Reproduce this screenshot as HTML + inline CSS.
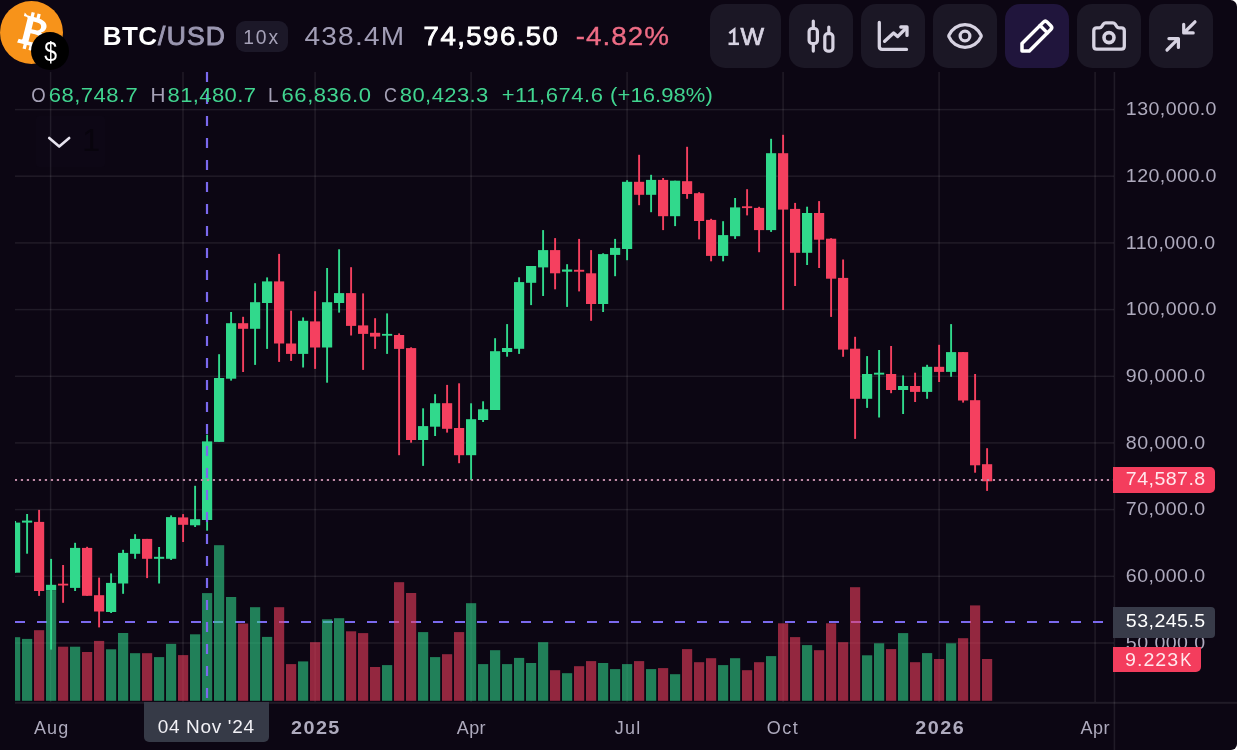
<!DOCTYPE html>
<html><head><meta charset="utf-8"><title>BTC/USD</title>
<style>
html,body{margin:0;padding:0;background:#fff;}
body{width:1237px;height:750px;overflow:hidden;font-family:"Liberation Sans",sans-serif;}
#app{position:relative;width:1237px;height:750px;background:#0c0613;border-top-right-radius:6.5px;border-bottom-right-radius:6px;overflow:hidden;}
.t{position:absolute;white-space:nowrap;line-height:1;font-family:"Liberation Sans",sans-serif;}
.c{text-align:center;}
.btn{position:absolute;top:4px;height:63.5px;width:64px;background:#1b1725;border-radius:15px;}
.tag{position:absolute;}
svg{position:absolute;left:0;top:0;will-change:transform;}
</style></head><body>
<div id="app">
<div style="position:absolute;left:36px;top:116px;width:69px;height:51px;background:#0d0715;border-radius:3px;"></div>
<svg width="1237" height="750" viewBox="0 0 1237 750">
<defs><clipPath id="cp"><rect x="15" y="70" width="1098.6" height="632"/></clipPath></defs>
<rect x="15" y="108.85" width="1099" height="1.5" fill="rgba(255,255,255,0.087)"/>
<rect x="15" y="175.45" width="1099" height="1.5" fill="rgba(255,255,255,0.087)"/>
<rect x="15" y="242.15" width="1099" height="1.5" fill="rgba(255,255,255,0.087)"/>
<rect x="15" y="308.85" width="1099" height="1.5" fill="rgba(255,255,255,0.087)"/>
<rect x="15" y="375.55" width="1099" height="1.5" fill="rgba(255,255,255,0.087)"/>
<rect x="15" y="442.15" width="1099" height="1.5" fill="rgba(255,255,255,0.087)"/>
<rect x="15" y="508.85" width="1099" height="1.5" fill="rgba(255,255,255,0.087)"/>
<rect x="15" y="575.55" width="1099" height="1.5" fill="rgba(255,255,255,0.087)"/>
<rect x="15" y="642.25" width="1099" height="1.5" fill="rgba(255,255,255,0.087)"/>
<rect x="49.85" y="72" width="1.5" height="630" fill="rgba(255,255,255,0.087)"/>
<rect x="182.25" y="72" width="1.5" height="630" fill="rgba(255,255,255,0.087)"/>
<rect x="314.35" y="72" width="1.5" height="630" fill="rgba(255,255,255,0.087)"/>
<rect x="470.35" y="72" width="1.5" height="630" fill="rgba(255,255,255,0.087)"/>
<rect x="626.35" y="72" width="1.5" height="630" fill="rgba(255,255,255,0.087)"/>
<rect x="782.35" y="72" width="1.5" height="630" fill="rgba(255,255,255,0.087)"/>
<rect x="938.35" y="72" width="1.5" height="630" fill="rgba(255,255,255,0.087)"/>
<rect x="1094.35" y="72" width="1.5" height="630" fill="rgba(255,255,255,0.087)"/>
<rect x="15" y="701.8" width="1222" height="2" fill="rgba(255,255,255,0.087)"/>
<rect x="1113.6" y="72" width="1.6" height="678" fill="rgba(255,255,255,0.087)"/>
<g clip-path="url(#cp)">
<path d="M15,622 H1113" stroke="#7b69ee" stroke-width="2.2" stroke-dasharray="10 12" fill="none"/>
<rect x="10.0" y="637.2" width="10.2" height="63.6" fill="#31d98c" fill-opacity="0.58"/>
<rect x="22.0" y="638.9" width="10.2" height="61.9" fill="#31d98c" fill-opacity="0.58"/>
<rect x="34.0" y="630.2" width="10.2" height="70.6" fill="#f5405f" fill-opacity="0.58"/>
<rect x="46.0" y="590.6" width="10.2" height="110.2" fill="#31d98c" fill-opacity="0.58"/>
<rect x="58.0" y="646.7" width="10.2" height="54.1" fill="#f5405f" fill-opacity="0.58"/>
<rect x="70.0" y="646.7" width="10.2" height="54.1" fill="#31d98c" fill-opacity="0.58"/>
<rect x="82.0" y="652.0" width="10.2" height="48.8" fill="#f5405f" fill-opacity="0.58"/>
<rect x="94.0" y="640.9" width="10.2" height="59.9" fill="#f5405f" fill-opacity="0.58"/>
<rect x="106.0" y="649.3" width="10.2" height="51.5" fill="#31d98c" fill-opacity="0.58"/>
<rect x="118.0" y="633.0" width="10.2" height="67.8" fill="#31d98c" fill-opacity="0.58"/>
<rect x="130.0" y="653.2" width="10.2" height="47.6" fill="#31d98c" fill-opacity="0.58"/>
<rect x="142.0" y="653.2" width="10.2" height="47.6" fill="#f5405f" fill-opacity="0.58"/>
<rect x="154.0" y="657.1" width="10.2" height="43.7" fill="#31d98c" fill-opacity="0.58"/>
<rect x="166.0" y="643.9" width="10.2" height="56.9" fill="#31d98c" fill-opacity="0.58"/>
<rect x="178.0" y="655.1" width="10.2" height="45.7" fill="#f5405f" fill-opacity="0.58"/>
<rect x="190.0" y="634.3" width="10.2" height="66.5" fill="#31d98c" fill-opacity="0.58"/>
<rect x="202.0" y="593.1" width="10.2" height="107.7" fill="#31d98c" fill-opacity="0.58"/>
<rect x="214.0" y="545.2" width="10.2" height="155.6" fill="#31d98c" fill-opacity="0.58"/>
<rect x="226.0" y="597.0" width="10.2" height="103.8" fill="#31d98c" fill-opacity="0.58"/>
<rect x="238.0" y="623.5" width="10.2" height="77.3" fill="#f5405f" fill-opacity="0.58"/>
<rect x="250.0" y="607.2" width="10.2" height="93.6" fill="#31d98c" fill-opacity="0.58"/>
<rect x="262.0" y="636.9" width="10.2" height="63.9" fill="#31d98c" fill-opacity="0.58"/>
<rect x="274.0" y="607.2" width="10.2" height="93.6" fill="#f5405f" fill-opacity="0.58"/>
<rect x="286.0" y="664.1" width="10.2" height="36.7" fill="#f5405f" fill-opacity="0.58"/>
<rect x="298.0" y="661.4" width="10.2" height="39.4" fill="#31d98c" fill-opacity="0.58"/>
<rect x="310.0" y="642.2" width="10.2" height="58.6" fill="#f5405f" fill-opacity="0.58"/>
<rect x="322.0" y="619.3" width="10.2" height="81.5" fill="#31d98c" fill-opacity="0.58"/>
<rect x="334.0" y="618.2" width="10.2" height="82.6" fill="#31d98c" fill-opacity="0.58"/>
<rect x="346.0" y="631.3" width="10.2" height="69.5" fill="#f5405f" fill-opacity="0.58"/>
<rect x="358.0" y="633.1" width="10.2" height="67.7" fill="#f5405f" fill-opacity="0.58"/>
<rect x="370.0" y="667.0" width="10.2" height="33.8" fill="#f5405f" fill-opacity="0.58"/>
<rect x="382.0" y="665.1" width="10.2" height="35.7" fill="#31d98c" fill-opacity="0.58"/>
<rect x="394.0" y="582.2" width="10.2" height="118.6" fill="#f5405f" fill-opacity="0.58"/>
<rect x="406.0" y="593.0" width="10.2" height="107.8" fill="#f5405f" fill-opacity="0.58"/>
<rect x="418.0" y="632.1" width="10.2" height="68.7" fill="#31d98c" fill-opacity="0.58"/>
<rect x="430.0" y="657.1" width="10.2" height="43.7" fill="#31d98c" fill-opacity="0.58"/>
<rect x="442.0" y="654.2" width="10.2" height="46.6" fill="#f5405f" fill-opacity="0.58"/>
<rect x="454.0" y="632.1" width="10.2" height="68.7" fill="#f5405f" fill-opacity="0.58"/>
<rect x="466.0" y="603.2" width="10.2" height="97.6" fill="#31d98c" fill-opacity="0.58"/>
<rect x="478.0" y="664.1" width="10.2" height="36.7" fill="#31d98c" fill-opacity="0.58"/>
<rect x="490.0" y="650.2" width="10.2" height="50.6" fill="#31d98c" fill-opacity="0.58"/>
<rect x="502.0" y="664.1" width="10.2" height="36.7" fill="#31d98c" fill-opacity="0.58"/>
<rect x="514.0" y="657.9" width="10.2" height="42.9" fill="#31d98c" fill-opacity="0.58"/>
<rect x="526.0" y="663.0" width="10.2" height="37.8" fill="#31d98c" fill-opacity="0.58"/>
<rect x="538.0" y="642.2" width="10.2" height="58.6" fill="#31d98c" fill-opacity="0.58"/>
<rect x="550.0" y="670.2" width="10.2" height="30.6" fill="#f5405f" fill-opacity="0.58"/>
<rect x="562.0" y="673.2" width="10.2" height="27.6" fill="#31d98c" fill-opacity="0.58"/>
<rect x="574.0" y="666.2" width="10.2" height="34.6" fill="#f5405f" fill-opacity="0.58"/>
<rect x="586.0" y="661.1" width="10.2" height="39.7" fill="#f5405f" fill-opacity="0.58"/>
<rect x="598.0" y="663.0" width="10.2" height="37.8" fill="#31d98c" fill-opacity="0.58"/>
<rect x="610.0" y="669.1" width="10.2" height="31.7" fill="#31d98c" fill-opacity="0.58"/>
<rect x="622.0" y="664.1" width="10.2" height="36.7" fill="#31d98c" fill-opacity="0.58"/>
<rect x="634.0" y="661.1" width="10.2" height="39.7" fill="#f5405f" fill-opacity="0.58"/>
<rect x="646.0" y="669.1" width="10.2" height="31.7" fill="#31d98c" fill-opacity="0.58"/>
<rect x="658.0" y="668.1" width="10.2" height="32.7" fill="#f5405f" fill-opacity="0.58"/>
<rect x="670.0" y="674.2" width="10.2" height="26.6" fill="#31d98c" fill-opacity="0.58"/>
<rect x="682.0" y="649.1" width="10.2" height="51.7" fill="#f5405f" fill-opacity="0.58"/>
<rect x="694.0" y="662.2" width="10.2" height="38.6" fill="#f5405f" fill-opacity="0.58"/>
<rect x="706.0" y="658.2" width="10.2" height="42.6" fill="#f5405f" fill-opacity="0.58"/>
<rect x="718.0" y="665.1" width="10.2" height="35.7" fill="#31d98c" fill-opacity="0.58"/>
<rect x="730.0" y="658.2" width="10.2" height="42.6" fill="#31d98c" fill-opacity="0.58"/>
<rect x="742.0" y="670.2" width="10.2" height="30.6" fill="#f5405f" fill-opacity="0.58"/>
<rect x="754.0" y="662.2" width="10.2" height="38.6" fill="#f5405f" fill-opacity="0.58"/>
<rect x="766.0" y="656.1" width="10.2" height="44.7" fill="#31d98c" fill-opacity="0.58"/>
<rect x="778.0" y="623.3" width="10.2" height="77.5" fill="#f5405f" fill-opacity="0.58"/>
<rect x="790.0" y="637.1" width="10.2" height="63.7" fill="#f5405f" fill-opacity="0.58"/>
<rect x="802.0" y="645.1" width="10.2" height="55.7" fill="#31d98c" fill-opacity="0.58"/>
<rect x="814.0" y="650.2" width="10.2" height="50.6" fill="#f5405f" fill-opacity="0.58"/>
<rect x="826.0" y="623.3" width="10.2" height="77.5" fill="#f5405f" fill-opacity="0.58"/>
<rect x="838.0" y="642.2" width="10.2" height="58.6" fill="#f5405f" fill-opacity="0.58"/>
<rect x="850.0" y="587.2" width="10.2" height="113.6" fill="#f5405f" fill-opacity="0.58"/>
<rect x="862.0" y="655.3" width="10.2" height="45.5" fill="#31d98c" fill-opacity="0.58"/>
<rect x="874.0" y="643.3" width="10.2" height="57.5" fill="#31d98c" fill-opacity="0.58"/>
<rect x="886.0" y="649.1" width="10.2" height="51.7" fill="#f5405f" fill-opacity="0.58"/>
<rect x="898.0" y="633.1" width="10.2" height="67.7" fill="#31d98c" fill-opacity="0.58"/>
<rect x="910.0" y="662.2" width="10.2" height="38.6" fill="#f5405f" fill-opacity="0.58"/>
<rect x="922.0" y="653.1" width="10.2" height="47.7" fill="#31d98c" fill-opacity="0.58"/>
<rect x="934.0" y="659.0" width="10.2" height="41.8" fill="#f5405f" fill-opacity="0.58"/>
<rect x="946.0" y="643.3" width="10.2" height="57.5" fill="#31d98c" fill-opacity="0.58"/>
<rect x="958.0" y="638.2" width="10.2" height="62.6" fill="#f5405f" fill-opacity="0.58"/>
<rect x="970.0" y="605.4" width="10.2" height="95.4" fill="#f5405f" fill-opacity="0.58"/>
<rect x="982.0" y="659.0" width="10.2" height="41.8" fill="#f5405f" fill-opacity="0.58"/>
<rect x="14.15" y="521.0" width="1.9" height="51.7" fill="#31d98c"/>
<rect x="10.0" y="522.6" width="10.2" height="50.1" fill="#31d98c"/>
<rect x="26.15" y="514.0" width="1.9" height="39.7" fill="#31d98c"/>
<rect x="22.0" y="520.6" width="10.2" height="2.0" fill="#31d98c"/>
<rect x="38.15" y="509.9" width="1.9" height="86.0" fill="#f5405f"/>
<rect x="34.0" y="521.9" width="10.2" height="69.1" fill="#f5405f"/>
<rect x="50.15" y="558.9" width="1.9" height="90.7" fill="#31d98c"/>
<rect x="46.0" y="584.8" width="10.2" height="5.6" fill="#31d98c"/>
<rect x="62.15" y="565.0" width="1.9" height="37.8" fill="#f5405f"/>
<rect x="58.0" y="583.7" width="10.2" height="1.8" fill="#f5405f"/>
<rect x="74.15" y="542.8" width="1.9" height="48.2" fill="#31d98c"/>
<rect x="70.0" y="547.9" width="10.2" height="40.0" fill="#31d98c"/>
<rect x="86.15" y="546.8" width="1.9" height="49.0" fill="#f5405f"/>
<rect x="82.0" y="547.9" width="10.2" height="47.9" fill="#f5405f"/>
<rect x="98.15" y="577.6" width="1.9" height="49.8" fill="#f5405f"/>
<rect x="94.0" y="595.2" width="10.2" height="16.3" fill="#f5405f"/>
<rect x="110.15" y="573.4" width="1.9" height="39.6" fill="#31d98c"/>
<rect x="106.0" y="582.9" width="10.2" height="29.1" fill="#31d98c"/>
<rect x="122.15" y="549.8" width="1.9" height="44.0" fill="#31d98c"/>
<rect x="118.0" y="552.9" width="10.2" height="30.6" fill="#31d98c"/>
<rect x="134.15" y="534.2" width="1.9" height="24.6" fill="#31d98c"/>
<rect x="130.0" y="538.9" width="10.2" height="14.9" fill="#31d98c"/>
<rect x="146.15" y="538.9" width="1.9" height="39.2" fill="#f5405f"/>
<rect x="142.0" y="538.9" width="10.2" height="19.9" fill="#f5405f"/>
<rect x="158.15" y="547.0" width="1.9" height="36.5" fill="#31d98c"/>
<rect x="154.0" y="556.8" width="10.2" height="2.0" fill="#31d98c"/>
<rect x="170.15" y="515.4" width="1.9" height="44.6" fill="#31d98c"/>
<rect x="166.0" y="517.1" width="10.2" height="41.7" fill="#31d98c"/>
<rect x="182.15" y="514.1" width="1.9" height="27.9" fill="#f5405f"/>
<rect x="178.0" y="517.4" width="10.2" height="7.4" fill="#f5405f"/>
<rect x="194.15" y="485.8" width="1.9" height="41.2" fill="#31d98c"/>
<rect x="190.0" y="519.2" width="10.2" height="6.1" fill="#31d98c"/>
<rect x="206.15" y="434.7" width="1.9" height="96.0" fill="#31d98c"/>
<rect x="202.0" y="441.4" width="10.2" height="78.6" fill="#31d98c"/>
<rect x="218.15" y="354.2" width="1.9" height="87.7" fill="#31d98c"/>
<rect x="214.0" y="378.0" width="10.2" height="63.9" fill="#31d98c"/>
<rect x="230.15" y="312.0" width="1.9" height="68.6" fill="#31d98c"/>
<rect x="226.0" y="323.2" width="10.2" height="55.5" fill="#31d98c"/>
<rect x="242.15" y="316.8" width="1.9" height="55.2" fill="#f5405f"/>
<rect x="238.0" y="323.2" width="10.2" height="5.6" fill="#f5405f"/>
<rect x="254.15" y="283.2" width="1.9" height="81.7" fill="#31d98c"/>
<rect x="250.0" y="302.2" width="10.2" height="26.6" fill="#31d98c"/>
<rect x="266.15" y="277.4" width="1.9" height="71.5" fill="#31d98c"/>
<rect x="262.0" y="281.4" width="10.2" height="21.6" fill="#31d98c"/>
<rect x="278.15" y="253.9" width="1.9" height="108.0" fill="#f5405f"/>
<rect x="274.0" y="281.4" width="10.2" height="62.1" fill="#f5405f"/>
<rect x="290.15" y="310.7" width="1.9" height="50.2" fill="#f5405f"/>
<rect x="286.0" y="343.5" width="10.2" height="10.4" fill="#f5405f"/>
<rect x="302.15" y="317.4" width="1.9" height="50.1" fill="#31d98c"/>
<rect x="298.0" y="320.8" width="10.2" height="33.1" fill="#31d98c"/>
<rect x="314.15" y="291.2" width="1.9" height="77.7" fill="#f5405f"/>
<rect x="310.0" y="321.4" width="10.2" height="26.1" fill="#f5405f"/>
<rect x="326.15" y="268.0" width="1.9" height="114.7" fill="#31d98c"/>
<rect x="322.0" y="302.2" width="10.2" height="45.3" fill="#31d98c"/>
<rect x="338.15" y="249.3" width="1.9" height="63.3" fill="#31d98c"/>
<rect x="334.0" y="293.1" width="10.2" height="9.9" fill="#31d98c"/>
<rect x="350.15" y="267.2" width="1.9" height="68.3" fill="#f5405f"/>
<rect x="346.0" y="293.1" width="10.2" height="32.8" fill="#f5405f"/>
<rect x="362.15" y="293.4" width="1.9" height="76.5" fill="#f5405f"/>
<rect x="358.0" y="325.4" width="10.2" height="8.5" fill="#f5405f"/>
<rect x="374.15" y="318.2" width="1.9" height="30.7" fill="#f5405f"/>
<rect x="370.0" y="332.8" width="10.2" height="3.8" fill="#f5405f"/>
<rect x="386.15" y="313.4" width="1.9" height="40.5" fill="#31d98c"/>
<rect x="382.0" y="333.9" width="10.2" height="1.8" fill="#31d98c"/>
<rect x="398.15" y="333.4" width="1.9" height="121.8" fill="#f5405f"/>
<rect x="394.0" y="335.0" width="10.2" height="13.9" fill="#f5405f"/>
<rect x="410.15" y="347.3" width="1.9" height="95.4" fill="#f5405f"/>
<rect x="406.0" y="348.1" width="10.2" height="91.9" fill="#f5405f"/>
<rect x="422.15" y="408.3" width="1.9" height="57.6" fill="#31d98c"/>
<rect x="418.0" y="426.1" width="10.2" height="13.9" fill="#31d98c"/>
<rect x="434.15" y="394.2" width="1.9" height="41.8" fill="#31d98c"/>
<rect x="430.0" y="403.2" width="10.2" height="23.5" fill="#31d98c"/>
<rect x="446.15" y="384.9" width="1.9" height="47.7" fill="#f5405f"/>
<rect x="442.0" y="403.2" width="10.2" height="25.6" fill="#f5405f"/>
<rect x="458.15" y="383.3" width="1.9" height="79.9" fill="#f5405f"/>
<rect x="454.0" y="428.0" width="10.2" height="27.2" fill="#f5405f"/>
<rect x="470.15" y="403.3" width="1.9" height="76.7" fill="#31d98c"/>
<rect x="466.0" y="419.2" width="10.2" height="36.0" fill="#31d98c"/>
<rect x="482.15" y="401.3" width="1.9" height="20.7" fill="#31d98c"/>
<rect x="478.0" y="409.3" width="10.2" height="10.7" fill="#31d98c"/>
<rect x="494.15" y="338.2" width="1.9" height="71.8" fill="#31d98c"/>
<rect x="490.0" y="351.2" width="10.2" height="58.8" fill="#31d98c"/>
<rect x="506.15" y="324.1" width="1.9" height="32.6" fill="#31d98c"/>
<rect x="502.0" y="348.0" width="10.2" height="4.0" fill="#31d98c"/>
<rect x="518.15" y="277.3" width="1.9" height="76.6" fill="#31d98c"/>
<rect x="514.0" y="282.1" width="10.2" height="66.7" fill="#31d98c"/>
<rect x="530.15" y="266.0" width="1.9" height="39.1" fill="#31d98c"/>
<rect x="526.0" y="266.0" width="10.2" height="16.8" fill="#31d98c"/>
<rect x="542.15" y="230.1" width="1.9" height="65.9" fill="#31d98c"/>
<rect x="538.0" y="250.1" width="10.2" height="17.3" fill="#31d98c"/>
<rect x="554.15" y="238.1" width="1.9" height="51.2" fill="#f5405f"/>
<rect x="550.0" y="250.1" width="10.2" height="23.2" fill="#f5405f"/>
<rect x="566.15" y="264.2" width="1.9" height="42.7" fill="#31d98c"/>
<rect x="562.0" y="269.5" width="10.2" height="2.2" fill="#31d98c"/>
<rect x="578.15" y="238.9" width="1.9" height="52.5" fill="#f5405f"/>
<rect x="574.0" y="269.8" width="10.2" height="1.9" fill="#f5405f"/>
<rect x="590.15" y="250.1" width="1.9" height="70.7" fill="#f5405f"/>
<rect x="586.0" y="273.3" width="10.2" height="30.7" fill="#f5405f"/>
<rect x="602.15" y="253.3" width="1.9" height="58.7" fill="#31d98c"/>
<rect x="598.0" y="254.1" width="10.2" height="49.9" fill="#31d98c"/>
<rect x="614.15" y="238.9" width="1.9" height="37.3" fill="#31d98c"/>
<rect x="610.0" y="247.9" width="10.2" height="7.0" fill="#31d98c"/>
<rect x="626.15" y="180.2" width="1.9" height="80.0" fill="#31d98c"/>
<rect x="622.0" y="181.8" width="10.2" height="67.2" fill="#31d98c"/>
<rect x="638.15" y="154.8" width="1.9" height="50.4" fill="#f5405f"/>
<rect x="634.0" y="181.8" width="10.2" height="13.0" fill="#f5405f"/>
<rect x="650.15" y="174.8" width="1.9" height="37.4" fill="#31d98c"/>
<rect x="646.0" y="179.9" width="10.2" height="14.9" fill="#31d98c"/>
<rect x="662.15" y="178.0" width="1.9" height="52.1" fill="#f5405f"/>
<rect x="658.0" y="179.9" width="10.2" height="36.3" fill="#f5405f"/>
<rect x="674.15" y="180.7" width="1.9" height="45.4" fill="#31d98c"/>
<rect x="670.0" y="180.7" width="10.2" height="35.5" fill="#31d98c"/>
<rect x="686.15" y="146.8" width="1.9" height="52.0" fill="#f5405f"/>
<rect x="682.0" y="181.2" width="10.2" height="12.8" fill="#f5405f"/>
<rect x="698.15" y="192.2" width="1.9" height="47.2" fill="#f5405f"/>
<rect x="694.0" y="193.2" width="10.2" height="27.8" fill="#f5405f"/>
<rect x="710.15" y="218.8" width="1.9" height="42.5" fill="#f5405f"/>
<rect x="706.0" y="219.9" width="10.2" height="36.0" fill="#f5405f"/>
<rect x="722.15" y="221.2" width="1.9" height="40.1" fill="#31d98c"/>
<rect x="718.0" y="235.1" width="10.2" height="20.8" fill="#31d98c"/>
<rect x="734.15" y="198.0" width="1.9" height="40.9" fill="#31d98c"/>
<rect x="730.0" y="207.4" width="10.2" height="28.8" fill="#31d98c"/>
<rect x="746.15" y="189.2" width="1.9" height="26.2" fill="#f5405f"/>
<rect x="742.0" y="206.3" width="10.2" height="1.8" fill="#f5405f"/>
<rect x="758.15" y="206.8" width="1.9" height="45.4" fill="#f5405f"/>
<rect x="754.0" y="207.9" width="10.2" height="22.2" fill="#f5405f"/>
<rect x="770.15" y="138.8" width="1.9" height="93.1" fill="#31d98c"/>
<rect x="766.0" y="153.2" width="10.2" height="76.9" fill="#31d98c"/>
<rect x="782.15" y="134.8" width="1.9" height="175.2" fill="#f5405f"/>
<rect x="778.0" y="153.2" width="10.2" height="56.4" fill="#f5405f"/>
<rect x="794.15" y="202.9" width="1.9" height="83.1" fill="#f5405f"/>
<rect x="790.0" y="208.9" width="10.2" height="43.9" fill="#f5405f"/>
<rect x="806.15" y="206.7" width="1.9" height="58.3" fill="#31d98c"/>
<rect x="802.0" y="213.0" width="10.2" height="39.8" fill="#31d98c"/>
<rect x="818.15" y="201.1" width="1.9" height="66.9" fill="#f5405f"/>
<rect x="814.0" y="213.0" width="10.2" height="26.7" fill="#f5405f"/>
<rect x="830.15" y="238.2" width="1.9" height="78.7" fill="#f5405f"/>
<rect x="826.0" y="238.7" width="10.2" height="40.0" fill="#f5405f"/>
<rect x="842.15" y="259.5" width="1.9" height="97.3" fill="#f5405f"/>
<rect x="838.0" y="277.9" width="10.2" height="71.7" fill="#f5405f"/>
<rect x="854.15" y="336.8" width="1.9" height="102.1" fill="#f5405f"/>
<rect x="850.0" y="348.7" width="10.2" height="50.1" fill="#f5405f"/>
<rect x="866.15" y="356.1" width="1.9" height="51.8" fill="#31d98c"/>
<rect x="862.0" y="374.0" width="10.2" height="24.8" fill="#31d98c"/>
<rect x="878.15" y="350.0" width="1.9" height="67.5" fill="#31d98c"/>
<rect x="874.0" y="372.7" width="10.2" height="1.9" fill="#31d98c"/>
<rect x="890.15" y="346.0" width="1.9" height="47.2" fill="#f5405f"/>
<rect x="886.0" y="374.0" width="10.2" height="16.0" fill="#f5405f"/>
<rect x="902.15" y="375.4" width="1.9" height="38.6" fill="#31d98c"/>
<rect x="898.0" y="386.0" width="10.2" height="4.0" fill="#31d98c"/>
<rect x="914.15" y="372.7" width="1.9" height="29.3" fill="#f5405f"/>
<rect x="910.0" y="386.0" width="10.2" height="5.9" fill="#f5405f"/>
<rect x="926.15" y="364.8" width="1.9" height="34.0" fill="#31d98c"/>
<rect x="922.0" y="366.8" width="10.2" height="25.1" fill="#31d98c"/>
<rect x="938.15" y="344.8" width="1.9" height="37.2" fill="#f5405f"/>
<rect x="934.0" y="366.8" width="10.2" height="5.1" fill="#f5405f"/>
<rect x="950.15" y="324.1" width="1.9" height="52.7" fill="#31d98c"/>
<rect x="946.0" y="352.1" width="10.2" height="19.8" fill="#31d98c"/>
<rect x="962.15" y="352.1" width="1.9" height="50.5" fill="#f5405f"/>
<rect x="958.0" y="352.1" width="10.2" height="48.4" fill="#f5405f"/>
<rect x="974.15" y="374.0" width="1.9" height="98.7" fill="#f5405f"/>
<rect x="970.0" y="400.2" width="10.2" height="65.1" fill="#f5405f"/>
<rect x="986.15" y="448.2" width="1.9" height="42.7" fill="#f5405f"/>
<rect x="982.0" y="464.2" width="10.2" height="17.1" fill="#f5405f"/>
<path d="M14.85,480 H1113" stroke="#c08aa6" stroke-width="2.2" stroke-dasharray="2.2 3.8" fill="none"/>
<path d="M207,72 V702" stroke="#7b69ee" stroke-width="2.2" stroke-dasharray="10 12" fill="none"/>
</g>
</svg>

<!-- legend collapse box -->
<svg width="1237" height="750" viewBox="0 0 1237 750">
<path d="M49.2,138 L59.2,146.6 L69.2,138" fill="none" stroke="#e6e3ee" stroke-width="2.6" stroke-linecap="round" stroke-linejoin="round"/>
</svg>

<!-- logo -->
<div style="position:absolute;left:-0.5px;top:0.5px;width:63px;height:63px;border-radius:50%;background:#f7931a;"></div>
<svg width="1237" height="750" viewBox="0 0 1237 750">
<g transform="translate(31.6,31.6) rotate(14) scale(1.09)">
<path fill="#fff" d="M-7.5,-13.5 h3.2 v-4 h3 v4 h2.6 v-4 h3 v4.2 c5,0.5 8,3 8,6.6 c0,2.6 -1.5,4.6 -4,5.5 c3.4,0.8 5.4,3.2 5.4,6.4 c0,4.6 -3.8,7.3 -9.4,7.6 v4.2 h-3 v-4.1 h-2.6 v4.1 h-3 v-4.1 h-6.2 l0.6,-3.6 h2.2 c0.9,0 1.2,-0.4 1.2,-1.2 v-18.8 c0,-0.9 -0.5,-1.4 -1.5,-1.4 h-2.3 v-3.4 z
M-0.6,-9.3 v7.2 h3.4 c2.9,0 4.7,-1.3 4.7,-3.7 c0,-2.3 -1.8,-3.5 -4.7,-3.5 z
M-0.6,1.6 v7.9 h4.2 c3.3,0 5.3,-1.4 5.3,-4 c0,-2.5 -2,-3.9 -5.3,-3.9 z" fill-rule="evenodd"/>
</g>
<circle cx="50" cy="51" r="19" fill="#000"/>
</svg>

<!-- pill -->
<div style="position:absolute;left:236px;top:20.5px;width:51.5px;height:31px;background:#1c1828;border-radius:9px;"></div>

<!-- toolbar -->
<div class="btn" style="left:710px;width:71px;"></div>
<div class="btn" style="left:789px;"></div>
<div class="btn" style="left:861px;"></div>
<div class="btn" style="left:933px;"></div>
<div class="btn" style="left:1005px;background:#20153c;"></div>
<div class="btn" style="left:1077px;"></div>
<div class="btn" style="left:1149px;"></div>
<svg width="1237" height="750" viewBox="0 0 1237 750" fill="none" stroke="#d7d3e2" stroke-linecap="round" stroke-linejoin="round">
<!-- 1 glyph -->
<path d="M728.5,43.8 H739" stroke-width="2.6" stroke-linecap="butt"/>
<path d="M734.2,44 V29.6 L729.3,33.2" stroke-width="2.6" stroke-linecap="butt" stroke-linejoin="miter"/>
<!-- candles icon -->
<g stroke-width="3.2">
<rect x="809.1" y="28.5" width="8.3" height="15" rx="3"/>
<path d="M813.3,21 V28 M813.3,44 V51.1"/>
<rect x="824.8" y="33.7" width="8.1" height="17.4" rx="3"/>
<path d="M828.8,27.1 V33"/>
</g>
<!-- chart icon -->
<g stroke-width="3.3">
<path d="M879.3,22.5 V46.6 Q879.3,49.4 882.1,49.4 H906.5"/>
<path d="M884.6,41.3 L893.6,33 L897.6,36.6 L906.2,28"/>
<path d="M900.8,27 H907 V35.4"/>
</g>
<!-- eye (lucide) -->
<g transform="translate(945.56,16.56) scale(1.62)" stroke-width="2">
<path d="M2.062 12.348a1 1 0 0 1 0-.696 10.75 10.75 0 0 1 19.876 0 1 1 0 0 1 0 .696 10.75 10.75 0 0 1-19.876 0"/>
<circle cx="12" cy="12" r="3"/>
</g>
<!-- pencil -->
<g stroke="#ffffff" stroke-width="3.5" transform="translate(1022,50.9) rotate(-45)">
<path d="M0,0 L5.2,-5.2 L35.5,-5.2 Q38.2,-5.2 38.2,-2.5 L38.2,2.5 Q38.2,5.2 35.5,5.2 L5.2,5.2 Z"/>
<path d="M30.7,-5.2 V5.2"/>
</g>
<!-- camera -->
<g stroke-width="3.3">
<path d="M1096.8,27.8 H1099.4 Q1100.9,27.8 1101.7,26.6 L1103.5,23.9 Q1104.3,22.8 1105.7,22.8 H1112.8 Q1114.2,22.8 1115,23.9 L1116.8,26.6 Q1117.6,27.8 1119.1,27.8 H1121.3 Q1124.3,27.8 1124.3,30.8 V46.2 Q1124.3,49.2 1121.3,49.2 H1096.8 Q1093.8,49.2 1093.8,46.2 V30.8 Q1093.8,27.8 1096.8,27.8 Z"/>
<circle cx="1109" cy="37.6" r="5" stroke-width="3.6"/>
</g>
<!-- collapse -->
<g stroke-width="3.2">
<path d="M1195,21.8 L1184.2,32.5 M1183.7,24.3 V32.9 H1193.2"/>
<path d="M1167,50 L1177.9,39.1 M1168.9,38.6 H1178.4 V47.5"/>
</g>
</svg>

<svg width="1237" height="750" viewBox="0 0 1237 750" style="font-family:'Liberation Sans',sans-serif">
<text transform="translate(102.81,45.10) scale(1.0,1)" font-size="26" fill="#ffffff" font-weight="700" letter-spacing="0.405">BTC</text>
<text stroke="#9b97b1" stroke-width="0.9" transform="translate(158.10,45.10) scale(1.02,1)" font-size="26" fill="#9b97b1" font-weight="400" letter-spacing="1.158">/USD</text>
<text transform="translate(243.15,43.80) scale(1.0,1)" font-size="19.3" fill="#a6a2b8" font-weight="400" letter-spacing="1.984">10x</text>
<text transform="translate(304.44,45.10) scale(1.08,1)" font-size="26" fill="#a29eb6" font-weight="400" letter-spacing="1.115">438.4M</text>
<text stroke="#ffffff" stroke-width="0.85" transform="translate(423.62,45.10) scale(1.06,1)" font-size="26" fill="#ffffff" font-weight="400" letter-spacing="1.380">74,596.50</text>
<text stroke="#ee6c85" stroke-width="0.35" transform="translate(575.79,45.10) scale(1.07,1)" font-size="26" fill="#ee6c85" font-weight="400" letter-spacing="0.934">-4.82%</text>
<text transform="translate(31.27,102.10) scale(0.9270,1)" font-size="20" fill="#a5a1b6" font-weight="400">O</text>
<text transform="translate(48.70,102.10) scale(1.1,1)" font-size="20" fill="#41d590" font-weight="400" letter-spacing="0.443">68,748.7</text>
<text transform="translate(150.44,102.10) scale(1.0354,1)" font-size="20" fill="#a5a1b6" font-weight="400">H</text>
<text transform="translate(167.52,102.10) scale(1.1,1)" font-size="20" fill="#41d590" font-weight="400" letter-spacing="0.375">81,480.7</text>
<text transform="translate(267.97,102.10) scale(0.9551,1)" font-size="20" fill="#a5a1b6" font-weight="400">L</text>
<text transform="translate(281.60,102.10) scale(1.1,1)" font-size="20" fill="#41d590" font-weight="400" letter-spacing="0.492">66,836.0</text>
<text transform="translate(383.90,102.10) scale(0.8976,1)" font-size="20" fill="#a5a1b6" font-weight="400">C</text>
<text transform="translate(399.82,102.10) scale(1.1,1)" font-size="20" fill="#41d590" font-weight="400" letter-spacing="0.374">80,423.3</text>
<text transform="translate(501.71,102.10) scale(1.1,1)" font-size="20" fill="#41d590" font-weight="400" letter-spacing="0.497">+11,674.6</text>
<text transform="translate(610.08,102.10) scale(1.1,1)" font-size="20" fill="#41d590" font-weight="400" letter-spacing="0.063">(+16.98%)</text>
<text transform="translate(1125.83,115.40) scale(1.07,1)" font-size="18.3" fill="#aeaabd" letter-spacing="0.423">130,000.0</text>
<text transform="translate(1125.83,182.00) scale(1.07,1)" font-size="18.3" fill="#aeaabd" letter-spacing="0.423">120,000.0</text>
<text transform="translate(1125.83,248.70) scale(1.07,1)" font-size="18.3" fill="#aeaabd" letter-spacing="0.423">110,000.0</text>
<text transform="translate(1125.83,315.40) scale(1.07,1)" font-size="18.3" fill="#aeaabd" letter-spacing="0.423">100,000.0</text>
<text transform="translate(1125.83,382.10) scale(1.07,1)" font-size="18.3" fill="#aeaabd" letter-spacing="0.423">90,000.0</text>
<text transform="translate(1125.83,448.70) scale(1.07,1)" font-size="18.3" fill="#aeaabd" letter-spacing="0.423">80,000.0</text>
<text transform="translate(1125.83,515.40) scale(1.07,1)" font-size="18.3" fill="#aeaabd" letter-spacing="0.423">70,000.0</text>
<text transform="translate(1125.83,582.10) scale(1.07,1)" font-size="18.3" fill="#aeaabd" letter-spacing="0.423">60,000.0</text>
<text transform="translate(1125.83,648.80) scale(1.07,1)" font-size="18.3" fill="#aeaabd" letter-spacing="0.423">50,000.0</text>
<text transform="translate(34.00,733.60) scale(1.0,1)" font-size="18" fill="#aeaabd" font-weight="400" letter-spacing="1.070">Aug</text>
<text transform="translate(291.01,733.60) scale(1.1,1)" font-size="18" fill="#aeaabd" font-weight="700" letter-spacing="1.313">2025</text>
<text transform="translate(456.80,733.60) scale(1.0,1)" font-size="18" fill="#aeaabd" font-weight="400" letter-spacing="0.395">Apr</text>
<text transform="translate(614.63,733.60) scale(1.0,1)" font-size="18" fill="#aeaabd" font-weight="400" letter-spacing="1.250">Jul</text>
<text transform="translate(766.79,733.60) scale(1.0,1)" font-size="18" fill="#aeaabd" font-weight="400" letter-spacing="1.510">Oct</text>
<text transform="translate(915.21,733.60) scale(1.1,1)" font-size="18" fill="#aeaabd" font-weight="700" letter-spacing="1.373">2026</text>
<text transform="translate(1080.50,733.60) scale(1.0,1)" font-size="18" fill="#aeaabd" font-weight="400" letter-spacing="0.495">Apr</text>
</svg>
<!-- price tags -->
<div class="tag" style="left:1113px;top:467px;width:102px;height:26px;background:#f43d5d;border-radius:0 5px 5px 0;"></div>
<div class="tag" style="left:1113px;top:606.5px;width:102px;height:31px;background:#383b49;border-radius:0 4px 4px 0;"></div>
<div class="tag" style="left:1113px;top:646.5px;width:88px;height:25px;background:#f43d5d;border-radius:0 0 5px 0;"></div>
<!-- date tag -->
<div class="tag" style="left:144px;top:702px;width:125px;height:40px;background:#363a47;border-radius:0 0 5px 5px;"></div>

<svg width="1237" height="750" viewBox="0 0 1237 750" font-family="Liberation Sans, sans-serif" style="font-family:'Liberation Sans',sans-serif">
<text transform="translate(1125.83,485.30) scale(1.07,1)" font-size="18.3" fill="#ffe8ed" letter-spacing="0.423">74,587.8</text>
<text transform="translate(1125.83,627.40) scale(1.07,1)" font-size="18.3" fill="#ffffff" letter-spacing="0.423">53,245.5</text>
<text transform="translate(1125.02,666.00) scale(1.07,1)" font-size="18.3" fill="#ffe8ed" font-weight="400" letter-spacing="0.961">9.223</text>
<text transform="translate(1180.26,666.00) scale(0.9139,1)" font-size="18.3" fill="#ffe8ed" font-weight="400">K</text>
<text transform="translate(157.63,733.40) scale(1.04,1)" font-size="18.3" fill="#f2f1f6" font-weight="400" letter-spacing="0.645">04 Nov &#39;24</text>
<text stroke="#d7d3e2" stroke-width="0.7" transform="translate(740.60,45.10) scale(1.0537,1)" font-size="23.7" fill="#d7d3e2" font-weight="400">W</text>
<text transform="translate(44.37,61.10) scale(0.8067,1)" font-size="28.5" fill="#ffffff" font-weight="400">$</text>
<text x="82.14" y="151.40" font-size="32" fill="#08040d" font-weight="400" letter-spacing="0.000" >1</text>
</svg>
</div>
</body></html>
